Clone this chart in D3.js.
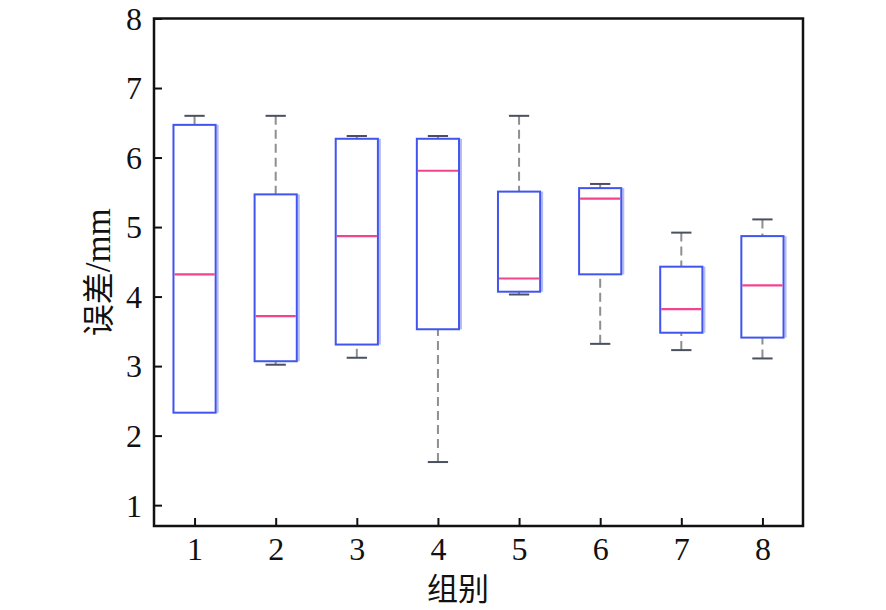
<!DOCTYPE html>
<html>
<head>
<meta charset="utf-8">
<script src="https://cdn.jsdelivr.net/npm/d3@7"></script>
<style>
  html, body { margin: 0; padding: 0; background: #fff; }
  svg { display: block; }
</style>
</head>
<body>
<svg id="chart" width="886" height="610"></svg>
<script>
// ---- data ----
const groups      = [1, 2, 3, 4, 5, 6, 7, 8];
const whiskerHigh = [6.60, 6.60, 6.31, 6.31, 6.60, 5.62, 4.92, 5.11];
const q3          = [6.47, 5.47, 6.27, 6.27, 5.51, 5.56, 4.43, 4.87];
const medians     = [4.32, 3.72, 4.87, 5.81, 4.26, 5.41, 3.82, 4.16];
const q1          = [2.33, 3.07, 3.31, 3.53, 4.07, 4.32, 3.48, 3.41];
const whiskerLow  = [2.33, 3.02, 3.12, 1.62, 4.03, 3.32, 3.23, 3.11];
const yTicks      = [1, 2, 3, 4, 5, 6, 7, 8];
const xLabel = "组别";
const yLabelCJK = "误差";
const yLabelUnit = "/mm";

const rows = groups.map((g, i) => ({
  g, hi: whiskerHigh[i], q3: q3[i], med: medians[i], q1: q1[i], lo: whiskerLow[i]
}));

const svg = d3.select("#chart");
const L = 154, R = 803, T = 18.5, B = 526;

const x = d3.scaleLinear().domain([0.5, 8.5]).range([L, R]);
const y = d3.scaleLinear().domain([0.7, 8]).range([B, T]);

const boxW = 0.52, capW = 0.25;
const serif = "'Liberation Serif', 'Times New Roman', serif";
const cjk = "'Noto Sans CJK SC', sans-serif";

const g = svg.append("g");

// whiskers (dashed)
rows.forEach(d => {
  if (d.hi > d.q3) {
    g.append("line").attr("x1", x(d.g)).attr("x2", x(d.g))
      .attr("y1", y(d.hi)).attr("y2", y(d.q3))
      .attr("stroke", "#8c9090").attr("stroke-width", 2)
      .attr("stroke-dasharray", "9,5");
    g.append("line").attr("x1", x(d.g - capW / 2)).attr("x2", x(d.g + capW / 2))
      .attr("y1", y(d.hi)).attr("y2", y(d.hi))
      .attr("stroke", "#4a505e").attr("stroke-width", 2);
  }
  if (d.lo < d.q1) {
    g.append("line").attr("x1", x(d.g)).attr("x2", x(d.g))
      .attr("y1", y(d.lo)).attr("y2", y(d.q1))
      .attr("stroke", "#8c9090").attr("stroke-width", 2)
      .attr("stroke-dasharray", "9,5");
    g.append("line").attr("x1", x(d.g - capW / 2)).attr("x2", x(d.g + capW / 2))
      .attr("y1", y(d.lo)).attr("y2", y(d.lo))
      .attr("stroke", "#4a505e").attr("stroke-width", 2);
  }
});

// soft light-blue shadow on right edge (as in reference)
g.selectAll("line.shadow").data(rows).enter().append("line")
  .attr("x1", d => x(d.g + boxW / 2) + 2).attr("x2", d => x(d.g + boxW / 2) + 2)
  .attr("y1", d => y(d.q3)).attr("y2", d => y(d.q1))
  .attr("stroke", "#b4bcf4").attr("stroke-width", 2);

// boxes
g.selectAll("rect.box").data(rows).enter().append("rect")
  .attr("x", d => x(d.g - boxW / 2))
  .attr("width", d => x(d.g + boxW / 2) - x(d.g - boxW / 2))
  .attr("y", d => y(d.q3))
  .attr("height", d => y(d.q1) - y(d.q3))
  .attr("fill", "none").attr("stroke", "#4155ee").attr("stroke-width", 2);

// medians
g.selectAll("line.med").data(rows).enter().append("line")
  .attr("x1", d => x(d.g - boxW / 2) + 1).attr("x2", d => x(d.g + boxW / 2) - 1)
  .attr("y1", d => y(d.med)).attr("y2", d => y(d.med))
  .attr("stroke", "#f2448e").attr("stroke-width", 2.2);

// axes (ticks inward)
const xAxis = d3.axisBottom(x).tickValues(groups).tickSizeInner(-8).tickSizeOuter(0).tickPadding(14);
const yAxis = d3.axisLeft(y).tickValues(yTicks).tickSizeInner(-8).tickSizeOuter(0).tickPadding(14);

const gx = svg.append("g").attr("transform", `translate(0,${B})`).call(xAxis);
const gy = svg.append("g").attr("transform", `translate(${L},0)`).call(yAxis);
[gx, gy].forEach(a => {
  a.select(".domain").remove();
  a.selectAll(".tick line").attr("stroke", "#111").attr("stroke-width", 2);
  a.selectAll(".tick text").attr("fill", "#111")
    .style("font-family", serif).style("font-size", "32px");
});
gx.selectAll(".tick text").attr("dy", "0.71em").attr("y", 11);
gy.selectAll(".tick text").attr("x", -12).attr("dy", "0.34em");

// frame
svg.append("rect").attr("x", L).attr("y", T).attr("width", R - L).attr("height", B - T)
  .attr("fill", "none").attr("stroke", "#111").attr("stroke-width", 2.5);

// axis titles
svg.append("text").attr("x", 458).attr("y", 600).attr("text-anchor", "middle")
  .style("font-family", cjk).style("font-size", "31px").attr("fill", "#111").text(xLabel);

const yt = svg.append("text")
  .attr("transform", `translate(110,${(T + B) / 2}) rotate(-90)`)
  .attr("text-anchor", "middle").attr("fill", "#111");
yt.append("tspan").style("font-family", cjk).style("font-size", "32px").text(yLabelCJK);
yt.append("tspan").style("font-family", serif).style("font-size", "35px").text(yLabelUnit);
</script>
</body>
</html>
